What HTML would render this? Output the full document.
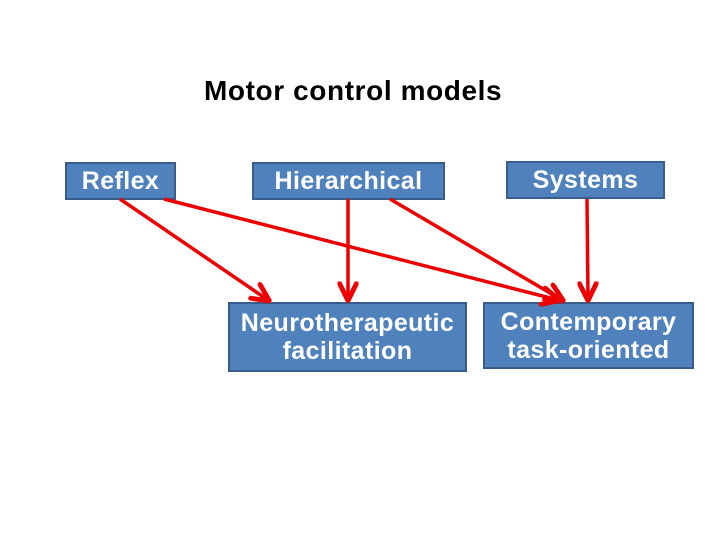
<!DOCTYPE html>
<html><head><style>
body{margin:0;width:720px;height:540px;background:#fff;position:relative;font-family:"Liberation Sans",sans-serif;overflow:hidden}
.b{position:absolute;box-sizing:border-box;background:#4f81bd;border:2px solid #385d8a;color:#fff;font-weight:bold;font-size:25px;letter-spacing:0.4px;display:flex;align-items:center;justify-content:center;text-align:center;line-height:28px;white-space:nowrap}
svg{position:absolute;left:0;top:0}
</style></head><body>
<div style="position:absolute;left:204px;top:75px;font-size:28px;font-weight:bold;letter-spacing:0.6px;white-space:nowrap">Motor control models</div>
<div class="b" style="left:65px;top:162px;width:111px;height:38px">Reflex</div>
<div class="b" style="left:252px;top:162px;width:193px;height:38px">Hierarchical</div>
<div class="b" style="left:506px;top:161px;width:159px;height:38px">Systems</div>
<div class="b" style="left:228px;top:302px;width:239px;height:70px">Neurotherapeutic<br>facilitation</div>
<div class="b" style="left:483px;top:302px;width:211px;height:67px">Contemporary<br>task-oriented</div>
<svg width="720" height="540">
<defs><marker id="a" markerWidth="6" markerHeight="6" refX="5" refY="3" orient="auto" markerUnits="strokeWidth"><path d="M0,0.3 L5.5,3 L0,5.7" fill="none" stroke="#e00" stroke-width="1.4"/></marker></defs>
<g stroke="#e00" stroke-width="3.5" fill="none" marker-end="url(#a)">
<line x1="120" y1="199" x2="268" y2="300"/>
<line x1="164" y1="199" x2="558" y2="300"/>
<line x1="348" y1="199" x2="348" y2="299"/>
<line x1="390" y1="199" x2="562" y2="300"/>
<line x1="587" y1="199" x2="588" y2="299"/>
</g></svg>
</body></html>
